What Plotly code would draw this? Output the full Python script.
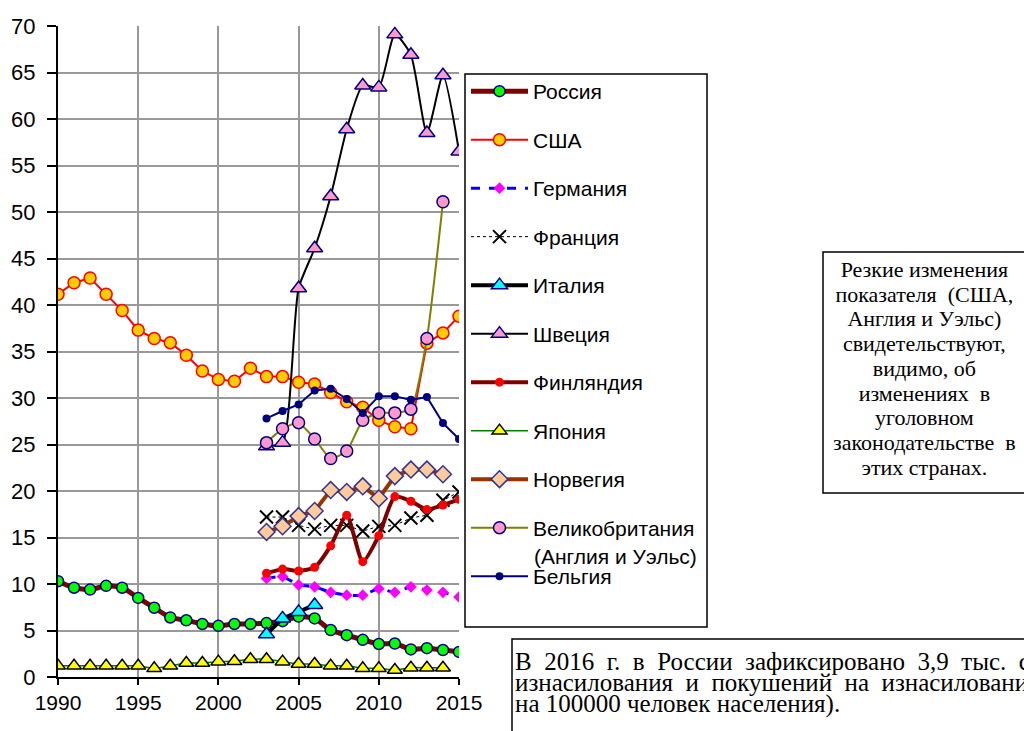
import plotly.graph_objects as go

# ---------------- data ----------------
years_all = list(range(1990, 2016))
years_jp = list(range(1990, 2015))
years_03 = list(range(2003, 2016))
years_03_14 = list(range(2003, 2015))
years_it = list(range(2003, 2007))

russia = [10.3, 9.6, 9.4, 9.8, 9.6, 8.5, 7.45, 6.4, 6.1, 5.7, 5.5, 5.7, 5.7,
          5.8, 6.0, 6.5, 6.3, 5.05, 4.5, 4.0, 3.55, 3.6, 2.97, 3.1, 2.9, 2.7]
usa = [41.15, 42.4, 42.9, 41.15, 39.4, 37.3, 36.4, 35.95, 34.6, 32.9, 32.0, 31.8, 33.2,
       32.3, 32.3, 31.7, 31.5, 30.6, 29.6, 29.0, 27.6, 26.9, 26.7, 35.9, 37.0, 38.8]
germany = [10.6, 10.8, 9.9, 9.7, 9.1, 8.8, 8.8, 9.5, 9.1, 9.7, 9.35, 9.1, 8.6]
france = [17.2, 17.2, 16.3, 15.9, 16.3, 16.3, 15.7, 16.2, 16.3, 17.1, 17.4, 19.0, 19.9]
italy = [4.6, 6.3, 7.0, 7.75]
sweden = [24.8, 25.2, 41.8, 46.1, 51.7, 58.9, 63.6, 63.4, 69.1, 66.9, 58.5, 64.7, 56.5]
finland = [11.15, 11.6, 11.4, 11.8, 14.1, 17.4, 12.4, 15.2, 19.4, 18.9, 18.0, 18.5, 19.1]
japan = [1.2, 1.2, 1.2, 1.2, 1.2, 1.2, 0.93, 1.2, 1.5, 1.5, 1.65, 1.7, 1.9,
         1.9, 1.65, 1.4, 1.4, 1.2, 1.2, 0.93, 0.93, 0.75, 1.0, 1.0, 1.0]
norway = [15.6, 16.2, 17.3, 17.85, 20.1, 19.9, 20.5, 19.2, 21.6, 22.3, 22.3, 21.8]
uk = [25.2, 26.7, 27.35, 25.6, 23.5, 24.3, 27.6, 28.4, 28.4, 28.8, 36.4, 51.1]
belgium = [27.8, 28.6, 29.3, 30.8, 31.0, 29.9, 28.4, 30.2, 30.2, 29.8, 30.1, 27.3, 25.6]

x_ticks = [1990, 1995, 2000, 2005, 2010, 2015]
y_ticks = list(range(0, 75, 5))

uk_name = "Великобритания"
uk_name_2 = "(Англия и Уэльс)"
note_right = ["Резкие изменения", "показателя  (США,", "Англия и Уэльс)", "свидетельствуют,",
              "видимо, об", "изменениях  в", "уголовном", "законодательстве  в", "этих странах."]
# first two lines are justified in the original text box
note_bottom = ["В  2016  г.  в  России  зафиксировано  3,9  тыс.  случаев",
               "изнасилования  и  покушений  на  изнасилование  (2,7",
               "на 100000 человек населения)."]

# ---------------- layout helpers ----------------
OFF = 8                      # page body margin
W, H = 1024, 723
L, R, T, B = 58 - OFF, 459 - OFF, 26 - OFF, 677 - OFF


def px_x(p):
    return (p - OFF - L) / (R - L)


def px_y(p):
    return (B - (p - OFF)) / (B - T)


SANS = "Liberation Sans, Arial, sans-serif"
SERIF = "Liberation Serif, Times New Roman, serif"

fig = go.Figure()


def add(name, x, y, line, marker, mode="lines+markers"):
    fig.add_trace(go.Scatter(x=x, y=y, name=name, mode=mode, line=line, marker=marker,
                             legendgroup=name))


add("Россия", years_all, russia,
    dict(color="#800000", width=5, shape="spline", smoothing=0.6),
    dict(symbol="circle", size=11, color="#00ff00", line=dict(color="#000080", width=1.5)))
add("США", years_all, usa,
    dict(color="#ff0000", width=2),
    dict(symbol="circle", size=12, color="#ffcc00", line=dict(color="#ff0000", width=1.5)))
add("Германия", years_03, germany,
    dict(color="#0000ff", width=3, dash="dash", shape="spline", smoothing=0.6),
    dict(symbol="diamond", size=9, color="#ff00ff", line=dict(width=0)))
add("Франция", years_03, france,
    dict(color="#000000", width=1, dash="dot"),
    dict(symbol="x-thin", size=13, color="#000000", line=dict(color="#000000", width=2)))
add("Италия", years_it, italy,
    dict(color="#000000", width=4),
    dict(symbol="triangle-up", size=14, color="#00ffff", line=dict(color="#000080", width=1.5)))
add("Швеция", years_03, sweden,
    dict(color="#000000", width=2, shape="spline", smoothing=0.6),
    dict(symbol="triangle-up", size=14, color="#ff99cc", line=dict(color="#000080", width=1.5)))
add("Финляндия", years_03, finland,
    dict(color="#800000", width=4, shape="spline", smoothing=0.6),
    dict(symbol="circle", size=9, color="#ff0000", line=dict(width=0)))
add("Япония", years_jp, japan,
    dict(color="#008000", width=1.5, shape="spline", smoothing=0.6),
    dict(symbol="triangle-up", size=13, color="#ffff00", line=dict(color="#000000", width=1.5)))
add("Норвегия", years_03_14, norway,
    dict(color="#993300", width=4),
    dict(symbol="diamond", size=13, color="#ffcc99", line=dict(color="#333399", width=1.5)))
add(uk_name, years_03_14, uk,
    dict(color="#808000", width=2, shape="spline", smoothing=0.5),
    dict(symbol="circle", size=12, color="#ff99cc", line=dict(color="#000080", width=1.5)))
add("Бельгия", years_03, belgium,
    dict(color="#000080", width=2),
    dict(symbol="circle", size=8, color="#000080", line=dict(width=0)))

shapes = [
    # legend frame
    dict(type="rect", xref="paper", yref="paper", x0=px_x(465), x1=px_x(707),
         y0=px_y(627), y1=px_y(74), line=dict(color="black", width=1.5)),
    # right note frame
    dict(type="rect", xref="paper", yref="paper", x0=px_x(823), x1=px_x(1026),
         y0=px_y(493), y1=px_y(252), line=dict(color="black", width=1.5)),
    # bottom note frame
    dict(type="rect", xref="paper", yref="paper", x0=px_x(512), x1=px_x(1060),
         y0=px_y(760), y1=px_y(639), line=dict(color="black", width=1.5)),
]

right_txt = "<br>".join('<span style="font-size:22px">%s</span>' % s for s in note_right)
bottom_txt = "<br>".join('<span style="font-size:25px">%s</span>' % s for s in note_bottom)

annotations = [
    dict(xref="paper", yref="paper", x=px_x(924.5), y=px_y(368.5), text=right_txt,
         showarrow=False, xanchor="center", yanchor="middle", align="center",
         font=dict(family=SERIF, size=19, color="black")),
    dict(xref="paper", yref="paper", x=px_x(513), y=px_y(683), text=bottom_txt,
         showarrow=False, xanchor="left", yanchor="middle", align="left",
         font=dict(family=SERIF, size=16, color="black")),
    dict(xref="paper", yref="paper", x=px_x(532), y=px_y(556), text=uk_name_2,
         showarrow=False, xanchor="left", yanchor="middle", align="left",
         font=dict(family=SANS, size=21, color="black")),
]

fig.update_layout(
    width=W, height=H,
    margin=dict(l=L, r=W - R, t=T, b=H - B, pad=0, autoexpand=False),
    paper_bgcolor="white", plot_bgcolor="white",
    font=dict(family=SANS, color="black"),
    showlegend=True,
    legend=dict(x=px_x(466), y=px_y(71), xanchor="left", yanchor="top",
                bgcolor="rgba(0,0,0,0)", borderwidth=0,
                font=dict(family=SANS, size=21, color="black"),
                tracegroupgap=18.2, traceorder="grouped", valign="middle",
                itemwidth=57, itemsizing="trace"),
    xaxis=dict(range=[1990, 2015], tickvals=x_ticks, ticks="outside", ticklen=6,
               tickcolor="black", tickwidth=1.5, automargin=False,
               showgrid=True, gridcolor="#999999", gridwidth=1.5,
               showline=True, linecolor="black", linewidth=2, zeroline=False,
               tickfont=dict(family=SANS, size=21, color="black")),
    yaxis=dict(range=[0, 70], tickvals=y_ticks, ticks="outside", ticklen=9,
               tickcolor="black", tickwidth=1.5, ticklabelstandoff=7, automargin=False,
               showgrid=True, gridcolor="#999999", gridwidth=1.5,
               showline=True, linecolor="black", linewidth=2, zeroline=False,
               tickfont=dict(family=SANS, size=22, color="black")),
    shapes=shapes,
    annotations=annotations,
)

fig.write_html("out.html")
